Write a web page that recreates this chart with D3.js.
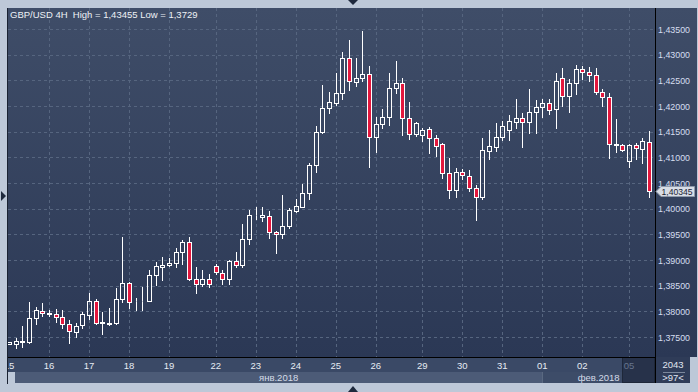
<!DOCTYPE html>
<html>
<head>
<meta charset="utf-8">
<script src="https://cdn.jsdelivr.net/npm/d3@7"></script>
<style>
html, body { margin: 0; padding: 0; background: #bdc8d8; }
svg { display: block; font-family: "Liberation Sans", Arial, sans-serif; }
</style>
</head>
<body>
<svg id="chart" width="698" height="392"></svg>
<script>
// GBP/USD, 4H candles, 15 Jan - 05 Feb 2018
var opens = [1.37373,1.37358,1.37412,1.37402,1.37870,1.38012,1.37948,1.37942,1.37884,1.37747,
  1.37603,1.37734,1.37934,1.38207,1.37782,1.37757,1.37767,1.38234,1.38546,1.38201,
  1.38201,1.38207,1.38708,1.38873,1.38897,1.38936,1.39150,1.39345,1.38624,1.38527,
  1.38624,1.38889,1.38752,1.38624,1.38986,1.38908,1.39403,1.39867,1.39843,1.39857,
  1.39540,1.39500,1.39656,1.39960,1.40042,1.40299,1.40841,1.41484,1.41967,1.42064,
  1.42247,1.42929,1.42473,1.42540,1.42623,1.41402,1.41643,1.41792,1.42345,1.42442,
  1.41760,1.41449,1.41435,1.41546,1.41371,1.41254,1.40689,1.40364,1.40720,1.40642,
  1.40397,1.40221,1.41129,1.41207,1.41390,1.41532,1.41694,1.41760,1.41694,1.41877,
  1.41975,1.42053,1.41936,1.42540,1.42201,1.42442,1.42715,1.42668,1.42604,1.42279,
  1.42169,1.41250,1.41240,1.40934,1.41240,1.41156,1.41293]
var highs = [1.37402,1.37480,1.37714,1.38182,1.38084,1.38162,1.38026,1.38045,1.38026,1.37831,
  1.37778,1.37993,1.38351,1.38234,1.37993,1.38065,1.38454,1.39448,1.38577,1.38260,
  1.38480,1.38805,1.38961,1.39052,1.39033,1.39228,1.39390,1.39442,1.38858,1.38805,
  1.38727,1.38922,1.38805,1.39000,1.39150,1.39695,1.39974,1.40027,1.40027,1.39954,
  1.39565,1.40266,1.40007,1.40188,1.40480,1.40890,1.41610,1.42409,1.42279,1.42649,
  1.43046,1.43286,1.42941,1.43455,1.42779,1.41792,1.41936,1.42649,1.42877,1.42540,
  1.42084,1.41694,1.41577,1.41585,1.41435,1.41285,1.40981,1.40798,1.40773,1.40753,
  1.40461,1.41371,1.41532,1.41663,1.41708,1.41825,1.42136,1.41869,1.42331,1.42117,
  1.42136,1.42136,1.42637,1.42746,1.42526,1.42799,1.42779,1.42766,1.42734,1.42331,
  1.42259,1.41747,1.41260,1.41260,1.41273,1.41371,1.41513]
var lows = [1.37363,1.37290,1.37305,1.37383,1.37753,1.37909,1.37909,1.37798,1.37681,1.37389,
  1.37494,1.37669,1.37856,1.37747,1.37552,1.37734,1.37747,1.38188,1.38059,1.38026,
  1.38026,1.38201,1.38513,1.38610,1.38883,1.38858,1.38922,1.38610,1.38363,1.38493,
  1.38468,1.38727,1.38532,1.38532,1.38869,1.38869,1.39306,1.39799,1.39766,1.39423,
  1.39142,1.39438,1.39629,1.39941,1.40032,1.40182,1.40720,1.41480,1.41858,1.42019,
  1.42136,1.42312,1.42395,1.42487,1.40817,1.41110,1.41577,1.41630,1.42259,1.41435,
  1.41351,1.41416,1.41324,1.41090,1.41032,1.40597,1.40208,1.40227,1.40572,1.40350,
  1.39779,1.40182,1.40962,1.41129,1.41338,1.41338,1.41566,1.41195,1.41480,1.41480,
  1.41780,1.41844,1.41577,1.42006,1.41889,1.42228,1.42520,1.42493,1.42234,1.42006,
  1.40993,1.41110,1.41123,1.40817,1.40962,1.40884,1.40233]
var closes = [1.37393,1.37422,1.37422,1.37870,1.38026,1.37962,1.37967,1.37890,1.37747,1.37611,
  1.37720,1.37942,1.38207,1.37767,1.37792,1.37773,1.38234,1.38546,1.38188,1.38211,
  1.38211,1.38708,1.38883,1.38893,1.38936,1.39150,1.39345,1.38624,1.38527,1.38624,
  1.38527,1.38760,1.38624,1.38986,1.38908,1.39403,1.39871,1.39877,1.39877,1.39536,
  1.39500,1.39656,1.39974,1.40046,1.40299,1.40841,1.41484,1.41955,1.42072,1.42247,
  1.42929,1.42487,1.42540,1.42623,1.41402,1.41643,1.41792,1.42345,1.42442,1.41760,
  1.41449,1.41663,1.41532,1.41371,1.41227,1.40689,1.40364,1.40720,1.40656,1.40397,
  1.40221,1.41143,1.41221,1.41390,1.41610,1.41708,1.41760,1.41694,1.41877,1.41975,
  1.42053,1.41922,1.42487,1.42201,1.42442,1.42715,1.42668,1.42604,1.42279,1.42169,
  1.41254,1.41240,1.41143,1.41240,1.41176,1.41324,1.40345]

var dayLabels = ["15","16","17","18","19","22","23","24","25","26","29","30","31","01","02","05"]
var barsPerDay = [6,6,6,6,7,6,6,6,6,7,6,6,6,6,7,4]
var monthLabels = ["янв.2018", "фев.2018"]
var monthFirstDay = [0, 13]   // index into dayLabels
var priceTicks = [1.375,1.38,1.385,1.39,1.395,1.40,1.405,1.41,1.415,1.42,1.425,1.43,1.435]
var lastPrice = 1.40345
var title = "GBP/USD 4H  High = 1,43455 Low = 1,3729"
var barsTotal = "2043", barsShown = ">97<"

var svg = d3.select("#chart")
var L = 8, T = 8, R = 655, B = 357

var x = d3.scaleLinear().domain([0, opens.length - 1]).range([9, 649])
var y = d3.scaleLinear().domain([1.375, 1.435]).range([337, 29])
var fmt = function(v){ return d3.format(".5f")(v).replace(".", ",") }

// day start indices
var dayStart = []
barsPerDay.reduce(function(acc, n){ dayStart.push(acc); return acc + n }, 0)

var defs = svg.append("defs")
var grad = defs.append("linearGradient").attr("id", "bg").attr("x1", 0).attr("y1", 0).attr("x2", 0).attr("y2", 1)
grad.append("stop").attr("offset", "0%").attr("stop-color", "#3f4d68")
grad.append("stop").attr("offset", "100%").attr("stop-color", "#2b3855")
defs.append("clipPath").attr("id", "plotClip").append("rect")
  .attr("x", L).attr("y", T).attr("width", R - L).attr("height", B - T)
defs.append("clipPath").attr("id", "axisClip").append("rect")
  .attr("x", L).attr("y", B).attr("width", R - L).attr("height", 30)

// panels
svg.append("rect").attr("x", L).attr("y", T).attr("width", 697 - L).attr("height", B - T).attr("fill", "url(#bg)")
svg.append("rect").attr("x", L).attr("y", B).attr("width", R - L).attr("height", 15).attr("fill", "#3a4966")
svg.append("rect").attr("x", 656).attr("y", B).attr("width", 34).attr("height", 26).attr("fill", "#2f3c58")

// month bands
var monthStartX = monthFirstDay.map(function(d, i){ return i === 0 ? 15 : x(dayStart[d]) })
var monthEndX = monthStartX.slice(1).concat([R])
svg.selectAll("rect.month").data(monthLabels).enter().append("rect")
  .attr("x", function(d, i){ return monthStartX[i] })
  .attr("y", 372).attr("height", 11)
  .attr("width", function(d, i){ return monthEndX[i] - monthStartX[i] })
  .attr("fill", function(d, i){ return i === 0 ? "#4c5b77" : "#3d4c68" })
svg.selectAll("text.month").data(monthLabels).enter().append("text")
  .attr("x", function(d, i){ return (monthStartX[i] + monthEndX[i]) / 2 })
  .attr("y", 381).attr("text-anchor", "middle")
  .attr("font-size", 9.5).attr("fill", "#d4dbe8")
  .text(function(d){ return d })

// current day box
var lastDay = dayStart[dayStart.length - 1]
svg.append("rect").attr("x", Math.round(x(lastDay - 1)) + 0.5).attr("y", B + 0.5)
  .attr("width", R - Math.round(x(lastDay - 1)) - 1).attr("height", 25)
  .attr("fill", "#27324a").attr("stroke", "#1e2739")

// grid
var grid = svg.append("g").attr("clip-path", "url(#plotClip)")
  .attr("stroke", "#56657f").attr("stroke-dasharray", "3,3").attr("stroke-width", 1)
grid.selectAll("line.h").data(priceTicks).enter().append("line")
  .attr("x1", L).attr("x2", R)
  .attr("y1", function(d){ return Math.round(y(d)) + 0.5 })
  .attr("y2", function(d){ return Math.round(y(d)) + 0.5 })
grid.selectAll("line.v").data(dayStart.slice(1)).enter().append("line")
  .attr("y1", T).attr("y2", B)
  .attr("x1", function(d){ return Math.round(x(d)) + 0.5 })
  .attr("x2", function(d){ return Math.round(x(d)) + 0.5 })

// candles
var candles = opens.map(function(o, i){
  return { i: i, o: o, h: highs[i], l: lows[i], c: closes[i] }
})
var cg = svg.append("g").attr("clip-path", "url(#plotClip)")
  .selectAll("g").data(candles).enter().append("g")
  .attr("transform", function(d){ return "translate(" + (Math.round(x(d.i)) + 0.5) + ",0)" })
function bodyTop(d){ return Math.round(y(Math.max(d.o, d.c))) + 0.5 }
function bodyBot(d){ return Math.round(y(Math.min(d.o, d.c))) + 0.5 }
cg.append("line").attr("stroke", "#ffffff")
  .attr("y1", function(d){ return Math.round(y(d.h)) }).attr("y2", bodyTop)
cg.append("line").attr("stroke", "#ffffff")
  .attr("y1", bodyBot).attr("y2", function(d){ return Math.round(y(d.l)) + 1 })
cg.append("rect")
  .attr("x", -2).attr("width", 4)
  .attr("y", bodyTop)
  .attr("height", function(d){ return bodyBot(d) - bodyTop(d) })
  .attr("fill", function(d){ return d.c < d.o ? "#e3173d" : "none" })
  .attr("stroke", "#ffffff").attr("stroke-width", 1)

// frame lines
svg.append("line").attr("x1", R + 0.5).attr("x2", R + 0.5).attr("y1", T).attr("y2", 383).attr("stroke", "#000")
svg.append("line").attr("x1", L).attr("x2", R + 1).attr("y1", B + 0.5).attr("y2", B + 0.5).attr("stroke", "#000")
svg.append("line").attr("x1", L - 0.5).attr("x2", L - 0.5).attr("y1", T).attr("y2", 384).attr("stroke", "#1a2232")

// price axis labels (the one behind the price marker is partly hidden, as in the original)
svg.selectAll("text.py").data(priceTicks).enter().append("text")
  .attr("x", 658).attr("y", function(d){ return y(d) + 3.5 })
  .attr("font-size", 9.5).attr("fill", "#d6def0")
  .attr("textLength", 32).attr("lengthAdjust", "spacingAndGlyphs")
  .text(fmt)

// date axis labels
svg.append("g").attr("clip-path", "url(#axisClip)")
  .selectAll("text").data(dayLabels).enter().append("text")
  .attr("x", function(d, i){ return x(dayStart[i]) })
  .attr("y", 369).attr("text-anchor", "middle").attr("font-size", 9.5)
  .attr("fill", function(d, i){ return i === dayLabels.length - 1 ? "#66758e" : "#e6ebf3" })
  .text(function(d){ return d })

// current price marker
var py = Math.round(y(lastPrice))
svg.append("path")
  .attr("d", "M656," + (py + 0.5) + "L661," + (py - 4.5) + "H694.5V" + (py + 5.5) + "H661Z")
  .attr("fill", "#d8dde6").attr("stroke", "#8f9aab")
svg.append("text").attr("x", 661.5).attr("y", py + 4).attr("font-size", 9.5).attr("fill", "#1b2232")
  .attr("textLength", 31).attr("lengthAdjust", "spacingAndGlyphs")
  .text(fmt(lastPrice))

// bar counter box
svg.append("text").attr("x", 673).attr("y", 368).attr("text-anchor", "middle")
  .attr("font-size", 9.5).attr("fill", "#e0e6f0").text(barsTotal)
svg.append("line").attr("x1", 663).attr("x2", 685).attr("y1", 372.5).attr("y2", 372.5).attr("stroke", "#7c889c")
svg.append("text").attr("x", 673).attr("y", 381).attr("text-anchor", "middle")
  .attr("font-size", 9.5).attr("fill", "#e0e6f0").text(barsShown)

// title
svg.append("text").attr("x", 10).attr("y", 18).attr("font-size", 9.5).attr("fill", "#eef1f6")
  .attr("xml:space", "preserve").style("white-space", "pre").text(title)

// scroll markers
svg.append("path").attr("d", "M348,0H358L353,5Z").attr("fill", "#1e293d")
svg.append("path").attr("d", "M348,392H358L353,386Z").attr("fill", "#1e293d")
svg.append("path").attr("d", "M1,191V201L6,196Z").attr("fill", "#1e293d")
</script>
</body>
</html>
